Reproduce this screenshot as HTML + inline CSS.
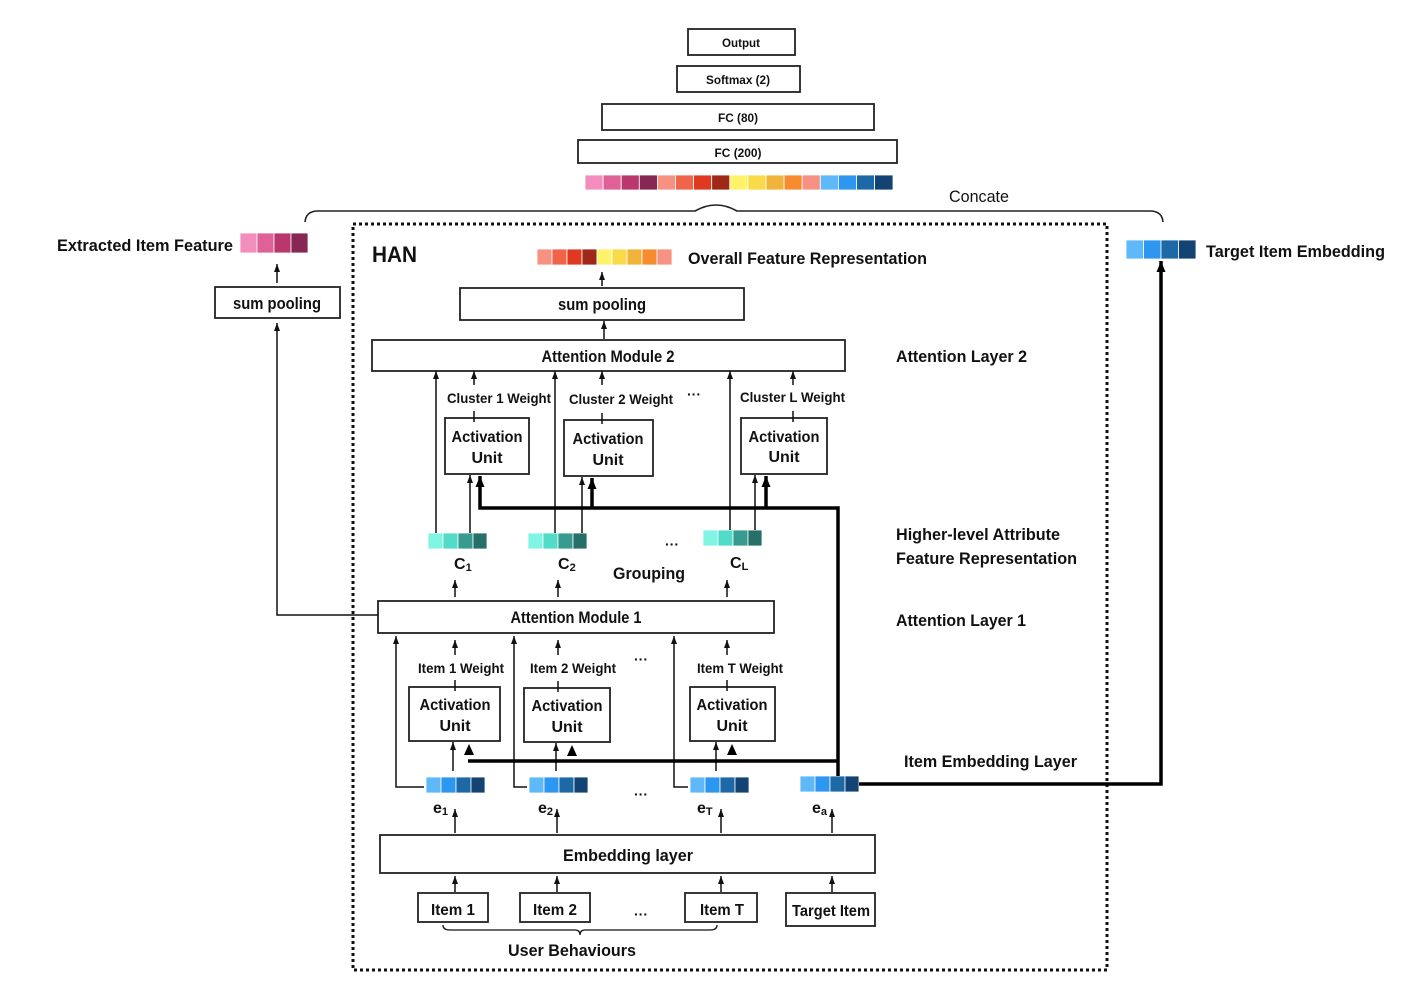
<!DOCTYPE html>
<html><head><meta charset="utf-8"><style>
html,body{margin:0;padding:0;background:#fff;}
svg{display:block;}
text{font-family:"Liberation Sans",Arial,sans-serif;font-weight:bold;fill:#111;}
</style></head><body>
<svg width="1423" height="985" viewBox="0 0 1423 985" xmlns="http://www.w3.org/2000/svg">
<defs>
<marker id="a" markerWidth="9" markerHeight="8" refX="8" refY="3.5" orient="auto" markerUnits="userSpaceOnUse"><path d="M0,0.5 L8,3.5 L0,6.5 Z" fill="#111"/></marker>
<marker id="b" markerWidth="13" markerHeight="12" refX="11" refY="5.5" orient="auto" markerUnits="userSpaceOnUse"><path d="M0,1 L11,5.5 L0,10 Z" fill="#000"/></marker>
</defs>
<g fill="none" stroke="#222" stroke-width="1.8">
<rect x="688" y="29" width="107" height="26"/>
<rect x="677" y="66" width="123" height="26"/>
<rect x="602" y="104" width="272" height="26"/>
<rect x="578" y="140" width="319" height="23"/>
<path d="M305,222 Q306,211 318,211 L695,211 Q716,199 737,211 L1150,211 Q1162,211 1163,222" stroke-width="1.6"/>
<rect x="353" y="224" width="754" height="746" stroke="#111" stroke-width="3" stroke-dasharray="3,3"/>
<rect x="215" y="287" width="125" height="31"/>
<rect x="460" y="288" width="284" height="32"/>
<rect x="372" y="340" width="473" height="31"/>
<rect x="445" y="418" width="84" height="56"/>
<rect x="564" y="420" width="89" height="56"/>
<rect x="741" y="418" width="86" height="56"/>
<rect x="378" y="601" width="396" height="32"/>
<rect x="409" y="687" width="91" height="54"/>
<rect x="524" y="688" width="86" height="54"/>
<rect x="690" y="687" width="85" height="54"/>
<rect x="380" y="835" width="495" height="38"/>
<rect x="418" y="893" width="70" height="29"/>
<rect x="520" y="893" width="70" height="29"/>
<rect x="685" y="893" width="72" height="29"/>
<rect x="786" y="893" width="89" height="33"/>
</g>
<g stroke="#fff" stroke-width="0.8">
<rect x="585" y="175" width="18.1" height="15" fill="#f28dbd"/><rect x="603.1" y="175" width="18.1" height="15" fill="#e06198"/><rect x="621.2" y="175" width="18.1" height="15" fill="#b9376c"/><rect x="639.3" y="175" width="18.1" height="15" fill="#862754"/>
<rect x="657.4" y="175" width="18.1" height="15" fill="#f79181"/><rect x="675.5" y="175" width="18.1" height="15" fill="#f0654a"/><rect x="693.6" y="175" width="18.1" height="15" fill="#df3a1f"/><rect x="711.7" y="175" width="18.1" height="15" fill="#a02818"/>
<rect x="729.8" y="175" width="18.1" height="15" fill="#fff36a"/><rect x="747.9" y="175" width="18.1" height="15" fill="#f8da4a"/><rect x="766" y="175" width="18.1" height="15" fill="#f2b33a"/><rect x="784.1" y="175" width="18.1" height="15" fill="#f68c2e"/>
<rect x="802.2" y="175" width="18.1" height="15" fill="#f79181"/><rect x="820.3" y="175" width="18.1" height="15" fill="#5fb8f8"/><rect x="838.4" y="175" width="18.1" height="15" fill="#2d97ef"/><rect x="856.5" y="175" width="18.1" height="15" fill="#1d68a6"/><rect x="874.6" y="175" width="18.4" height="15" fill="#134373"/>
<rect x="240" y="233" width="17" height="20" fill="#f28dbd"/><rect x="257" y="233" width="17" height="20" fill="#e06198"/><rect x="274" y="233" width="17" height="20" fill="#b9376c"/><rect x="291" y="233" width="17" height="20" fill="#862754"/>
<rect x="537" y="249" width="15" height="16" fill="#f79181"/><rect x="552" y="249" width="15" height="16" fill="#f0654a"/><rect x="567" y="249" width="15" height="16" fill="#df3a1f"/><rect x="582" y="249" width="15" height="16" fill="#a02818"/><rect x="597" y="249" width="15" height="16" fill="#fff36a"/><rect x="612" y="249" width="15" height="16" fill="#f8da4a"/><rect x="627" y="249" width="15" height="16" fill="#f2b33a"/><rect x="642" y="249" width="15" height="16" fill="#f68c2e"/><rect x="657" y="249" width="15" height="16" fill="#f79181"/>
<rect x="1126" y="240" width="17.5" height="19" fill="#5fb8f8"/><rect x="1143.5" y="240" width="17.5" height="19" fill="#2d97ef"/><rect x="1161" y="240" width="17.5" height="19" fill="#1d68a6"/><rect x="1178.5" y="240" width="17.5" height="19" fill="#134373"/>
<rect x="428" y="533" width="15" height="16" fill="#80f5e4"/><rect x="443" y="533" width="15" height="16" fill="#52dbc8"/><rect x="458" y="533" width="15" height="16" fill="#389b8f"/><rect x="473" y="533" width="14" height="16" fill="#276f69"/>
<rect x="528" y="533" width="15" height="16" fill="#80f5e4"/><rect x="543" y="533" width="15" height="16" fill="#52dbc8"/><rect x="558" y="533" width="15" height="16" fill="#389b8f"/><rect x="573" y="533" width="14" height="16" fill="#276f69"/>
<rect x="703" y="530" width="15" height="16" fill="#80f5e4"/><rect x="718" y="530" width="15" height="16" fill="#52dbc8"/><rect x="733" y="530" width="15" height="16" fill="#389b8f"/><rect x="748" y="530" width="14" height="16" fill="#276f69"/>
<rect x="426" y="777" width="15" height="16" fill="#5fb8f8"/><rect x="441" y="777" width="15" height="16" fill="#2d97ef"/><rect x="456" y="777" width="15" height="16" fill="#1d68a6"/><rect x="471" y="777" width="14" height="16" fill="#134373"/>
<rect x="529" y="777" width="15" height="16" fill="#5fb8f8"/><rect x="544" y="777" width="15" height="16" fill="#2d97ef"/><rect x="559" y="777" width="15" height="16" fill="#1d68a6"/><rect x="574" y="777" width="14" height="16" fill="#134373"/>
<rect x="690" y="777" width="15" height="16" fill="#5fb8f8"/><rect x="705" y="777" width="15" height="16" fill="#2d97ef"/><rect x="720" y="777" width="15" height="16" fill="#1d68a6"/><rect x="735" y="777" width="14" height="16" fill="#134373"/>
<rect x="800" y="776" width="15" height="16" fill="#5fb8f8"/><rect x="815" y="776" width="15" height="16" fill="#2d97ef"/><rect x="830" y="776" width="15" height="16" fill="#1d68a6"/><rect x="845" y="776" width="14" height="16" fill="#134373"/>
</g>
<g fill="none" stroke="#111" stroke-width="1.5">
<path d="M277,283 V264" marker-end="url(#a)"/>
<path d="M378,615 H277 V323" marker-end="url(#a)"/>
<path d="M602,286 V272" marker-end="url(#a)"/>
<path d="M604,339 V321" marker-end="url(#a)"/>
<path d="M474,385 V371" marker-end="url(#a)"/>
<path d="M602,385 V371" marker-end="url(#a)"/>
<path d="M793,385 V371" marker-end="url(#a)"/>
<path d="M474,411 V422"/><path d="M602,413 V424"/><path d="M793,411 V422"/>
<path d="M436,533 V371" marker-end="url(#a)"/>
<path d="M470,533 V475" marker-end="url(#a)"/>
<path d="M555,533 V371" marker-end="url(#a)"/>
<path d="M582,533 V477" marker-end="url(#a)"/>
<path d="M730,530 V371" marker-end="url(#a)"/>
<path d="M755,530 V475" marker-end="url(#a)"/>
<path d="M455,597 V580" marker-end="url(#a)"/>
<path d="M558,597 V580" marker-end="url(#a)"/>
<path d="M727,597 V580" marker-end="url(#a)"/>
<path d="M455,655 V640" marker-end="url(#a)"/>
<path d="M558,655 V640" marker-end="url(#a)"/>
<path d="M727,655 V640" marker-end="url(#a)"/>
<path d="M455,680 V691"/><path d="M558,681 V692"/><path d="M727,680 V691"/>
<path d="M424,787 H396 V636" marker-end="url(#a)"/>
<path d="M527,787 H514 V636" marker-end="url(#a)"/>
<path d="M688,787 H674 V636" marker-end="url(#a)"/>
<path d="M453,771 V742" marker-end="url(#a)"/>
<path d="M556,771 V743" marker-end="url(#a)"/>
<path d="M716,771 V742" marker-end="url(#a)"/>
<path d="M455,833 V809" marker-end="url(#a)"/>
<path d="M557,833 V809" marker-end="url(#a)"/>
<path d="M721,833 V809" marker-end="url(#a)"/>
<path d="M832,833 V809" marker-end="url(#a)"/>
<path d="M455,892 V876" marker-end="url(#a)"/>
<path d="M557,892 V876" marker-end="url(#a)"/>
<path d="M721,892 V876" marker-end="url(#a)"/>
<path d="M832,892 V876" marker-end="url(#a)"/>
<path d="M443,925 Q443,930 450,930 L575,930 Q580,930 580,935 Q580,930 585,930 L710,930 Q717,930 717,925" stroke-width="1.3"/>
</g>
<g fill="none" stroke="#000" stroke-width="3.5">
<path d="M838,776 V508 H480 V476" marker-end="url(#b)"/>
<path d="M592,508 V478" marker-end="url(#b)"/>
<path d="M766,508 V476" marker-end="url(#b)"/>
<path d="M838,761 H468"/>
<path d="M859,784 H1161 V261" marker-end="url(#b)"/>
</g>
<g fill="#000">
<path d="M464,755 L469,744 L474,755 Z"/>
<path d="M567,756 L572,745 L577,756 Z"/>
<path d="M727,755 L732,744 L737,755 Z"/>
</g>
<g font-size="12">
<text x="741" y="47" text-anchor="middle" textLength="38" lengthAdjust="spacingAndGlyphs">Output</text>
<text x="738" y="84" text-anchor="middle" textLength="64" lengthAdjust="spacingAndGlyphs">Softmax (2)</text>
<text x="738" y="122" text-anchor="middle" textLength="40" lengthAdjust="spacingAndGlyphs">FC (80)</text>
<text x="738" y="157" text-anchor="middle" textLength="47" lengthAdjust="spacingAndGlyphs">FC (200)</text>
</g>
<text x="949" y="202" font-size="17" textLength="60" lengthAdjust="spacingAndGlyphs" style="font-weight:normal">Concate</text>
<g font-size="17">
<text x="57" y="251" textLength="176" lengthAdjust="spacingAndGlyphs">Extracted Item Feature</text>
<text x="277" y="309" text-anchor="middle" textLength="88" lengthAdjust="spacingAndGlyphs">sum pooling</text>
<text x="372" y="262" font-size="22" textLength="45" lengthAdjust="spacingAndGlyphs">HAN</text>
<text x="688" y="264" textLength="239" lengthAdjust="spacingAndGlyphs">Overall Feature Representation</text>
<text x="1206" y="257" textLength="179" lengthAdjust="spacingAndGlyphs">Target Item Embedding</text>
<text x="602" y="310" text-anchor="middle" textLength="88" lengthAdjust="spacingAndGlyphs">sum pooling</text>
<text x="608" y="362" text-anchor="middle" textLength="133" lengthAdjust="spacingAndGlyphs">Attention Module 2</text>
<text x="896" y="362" textLength="131" lengthAdjust="spacingAndGlyphs">Attention Layer 2</text>
<text x="896" y="540" textLength="164" lengthAdjust="spacingAndGlyphs">Higher-level Attribute</text>
<text x="896" y="564" textLength="181" lengthAdjust="spacingAndGlyphs">Feature Representation</text>
<text x="896" y="626" textLength="130" lengthAdjust="spacingAndGlyphs">Attention Layer 1</text>
<text x="904" y="767" textLength="173" lengthAdjust="spacingAndGlyphs">Item Embedding Layer</text>
<text x="576" y="623" text-anchor="middle" textLength="131" lengthAdjust="spacingAndGlyphs">Attention Module 1</text>
<text x="613" y="579" textLength="72" lengthAdjust="spacingAndGlyphs">Grouping</text>
<text x="628" y="861" text-anchor="middle" textLength="130" lengthAdjust="spacingAndGlyphs">Embedding layer</text>
<text x="572" y="956" text-anchor="middle" textLength="128" lengthAdjust="spacingAndGlyphs">User Behaviours</text>
</g>
<g font-size="14">
<text x="447" y="403" textLength="104" lengthAdjust="spacingAndGlyphs">Cluster 1 Weight</text>
<text x="569" y="404" textLength="104" lengthAdjust="spacingAndGlyphs">Cluster 2 Weight</text>
<text x="740" y="402" textLength="105" lengthAdjust="spacingAndGlyphs">Cluster L Weight</text>
<text x="418" y="673" textLength="86" lengthAdjust="spacingAndGlyphs">Item 1 Weight</text>
<text x="530" y="673" textLength="86" lengthAdjust="spacingAndGlyphs">Item 2 Weight</text>
<text x="697" y="673" textLength="86" lengthAdjust="spacingAndGlyphs">Item T Weight</text>
</g>
<g font-size="16" text-anchor="middle">
<text x="487" y="442" textLength="71" lengthAdjust="spacingAndGlyphs">Activation</text><text x="487" y="463">Unit</text>
<text x="608" y="444" textLength="71" lengthAdjust="spacingAndGlyphs">Activation</text><text x="608" y="465">Unit</text>
<text x="784" y="442" textLength="71" lengthAdjust="spacingAndGlyphs">Activation</text><text x="784" y="462">Unit</text>
<text x="455" y="710" textLength="71" lengthAdjust="spacingAndGlyphs">Activation</text><text x="455" y="731">Unit</text>
<text x="567" y="711" textLength="71" lengthAdjust="spacingAndGlyphs">Activation</text><text x="567" y="732">Unit</text>
<text x="732" y="710" textLength="71" lengthAdjust="spacingAndGlyphs">Activation</text><text x="732" y="731">Unit</text>
<text x="453" y="915" textLength="44" lengthAdjust="spacingAndGlyphs">Item 1</text>
<text x="555" y="915" textLength="44" lengthAdjust="spacingAndGlyphs">Item 2</text>
<text x="722" y="915" textLength="44" lengthAdjust="spacingAndGlyphs">Item T</text>
<text x="831" y="916" textLength="78" lengthAdjust="spacingAndGlyphs">Target Item</text>
</g>
<g font-size="16">
<text x="454" y="569">C<tspan font-size="11" dy="2">1</tspan></text>
<text x="558" y="569">C<tspan font-size="11" dy="2">2</tspan></text>
<text x="730" y="568">C<tspan font-size="11" dy="2">L</tspan></text>
<text x="433" y="813">e<tspan font-size="11" dy="2">1</tspan></text>
<text x="538" y="813">e<tspan font-size="11" dy="2">2</tspan></text>
<text x="697" y="813">e<tspan font-size="11" dy="2">T</tspan></text>
<text x="812" y="813">e<tspan font-size="11" dy="2">a</tspan></text>
</g>
<g font-size="14">
<text x="687" y="399">···</text>
<text x="665" y="549">···</text>
<text x="634" y="664">···</text>
<text x="634" y="799">···</text>
<text x="634" y="919">···</text>
</g>
</svg>
</body></html>
